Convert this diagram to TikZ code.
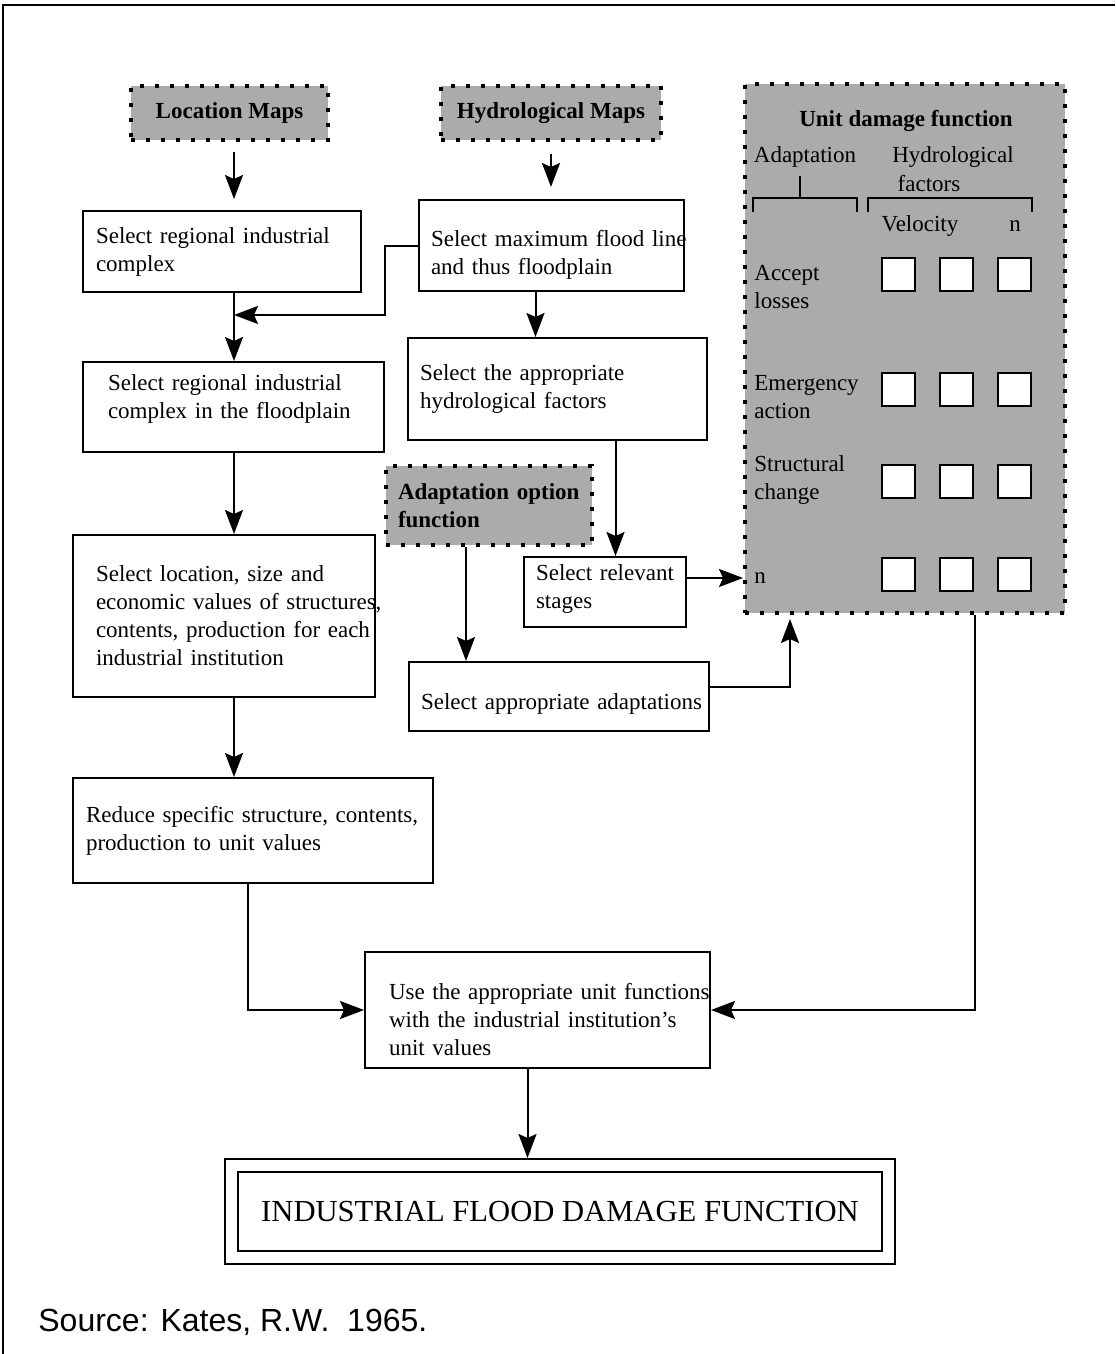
\documentclass[tikz,border=0pt]{standalone}
\usepackage{fontspec}
\setmainfont{Liberation Serif}
\newfontfamily\srcfont{Liberation Sans}
\usetikzlibrary{arrows.meta, positioning, fit}
\newcommand{\boxfont}{\fontsize{11.5pt}{14pt}\selectfont}
\hyphenpenalty=10000
\exhyphenpenalty=10000

\begin{document}
\begin{tikzpicture}[x=0.5pt, y=-0.5pt,
  stepbox/.style={draw, line width=1pt, fill=white, align=left,
    font=\boxfont, inner ysep=0pt},
  dotbox/.style={draw, line width=2pt, dash pattern=on 2pt off 5.5pt,
    fill=black!33, font=\boxfont\bfseries, inner ysep=0pt},
  cell/.style={draw, line width=1pt, fill=white,
    minimum size=16.5pt, inner sep=0pt},
  lbl/.style={font=\boxfont, inner sep=0pt, align=left},
  drop/.style={execute at begin node={\endgraf\vspace*{#1}}},
  lift/.style={execute at end node={\endgraf\vspace*{#1}}},
  arr/.style={-{Stealth[length=12pt, width=9pt, inset=2pt]}, line width=1pt},
  brk/.style={line width=1pt}
]

%% ── Frame ──
\useasboundingbox (0,0) rectangle (1115,1354);
\draw[line width=1.3pt] (3,1354) -- (3,5) -- (1115,5);

%% ── Map inputs ──
\node[dotbox, minimum width=98.5pt, minimum height=27pt] (locmap) at (229.5,113) {Location Maps};
\node[dotbox, minimum width=110pt, minimum height=27pt] (hydmap) at (551,113) {Hydrological Maps};
\node[dotbox, align=left, text width=91pt, inner xsep=6pt, minimum height=39.5pt] (adopt) at (489,505.5)
  {Adaptation~option\\function};

%% ── Industrial complex chain ──
\node[stepbox, text width=126pt, inner xsep=6.5pt, minimum height=40.5pt] (regcomp) at (222,251.5)
  {Select~regional~industrial\\complex};
\node[stepbox, lift=8.5pt, text width=125.5pt, inner xsep=12.5pt, minimum height=45pt] (regflood) at (233.5,407)
  {Select~regional~industrial\\complex~in~the~floodplain};
\node[stepbox, text width=128pt, inner xsep=11.5pt, minimum height=81pt] (values) at (224,616)
  {Select location, size and\\economic~values~of~structures,\\contents,~production~for~each\\industrial institution};
\node[stepbox, text width=167pt, inner xsep=6.5pt, minimum height=52.5pt] (reduce) at (253,830.5)
  {Reduce~specific~structure,~contents,\\production to unit values};

%% ── Hydrological chain ──
\node[stepbox, drop=3pt, text width=120.5pt, inner xsep=6pt, minimum height=45.5pt] (floodline) at (551.5,245.5)
  {Select~maximum~flood~line\\and thus floodplain};
\node[stepbox, text width=137.5pt, inner xsep=6pt, minimum height=51pt] (hydfac) at (557.5,389)
  {Select the appropriate\\hydrological factors};
\node[stepbox, lift=3pt, text width=69pt, inner xsep=6pt, minimum height=35pt] (stages) at (605,592)
  {Select~relevant\\stages};
\node[stepbox, drop=1pt, align=center, text width=138pt, inner xsep=6pt, minimum height=34.5pt] (adapt) at (559,696.5)
  {Select~appropriate~adaptations};
\node[stepbox, drop=3.5pt, text width=148.5pt, inner xsep=12pt, minimum height=58pt] (useunit) at (537.5,1010)
  {Use~the~appropriate~unit~functions\\with the industrial institution’s\\unit values};

%% ── Result ──
\node[draw, line width=1pt, minimum width=322pt, minimum height=39.5pt,
  font=\fontsize{15.3pt}{18pt}\selectfont] (result) at (560,1211.5) {INDUSTRIAL FLOOD DAMAGE FUNCTION};
\node[draw, line width=1pt, fit=(result), inner sep=6pt] (resultframe) {};

%% ── Unit damage function panel ──
\node[dotbox, minimum width=160pt, minimum height=264.5pt] (unitfn) at (905,348.5) {};
\node[font=\boxfont\bfseries] (unittitle) at (906,121) {Unit damage function};
\node[lbl] (adaptlbl) at (805,157) {Adaptation};
\node[lbl] (hydlbl) at (953,157) {Hydrological};
\node[lbl] (factlbl) at (929,184) {factors};
\node[lbl] (vellbl) at (920,226) {Velocity};
\node[lbl] (nlbl) at (1015,226) {n};

\draw[brk] (753,212) -- (753,198) -- (857,198) -- (857,212);
\draw[brk] (800,198) -- (800,176);
\draw[brk] (868,212) -- (868,198) -- (1032,198) -- (1032,212);

\foreach \r/\sy/\ly/\txt in {1/274/287/{Accept\\losses}, 2/389/397/{Emergency\\action},
    3/481/480/{Structural\\change}, 4/574/578/n} {
  \node[lbl, anchor=west] (row\r) at (754,\ly) {\txt};
  \foreach \c/\sx in {1/898, 2/956, 3/1014}
    \node[cell] (cell\r\c) at (\sx,\sy) {};
}

%% ── Connectors ──
\coordinate (merge) at (234,315);
\draw[arr, shorten <=5pt, shorten >=5.5pt] (locmap.south -| merge) -- (regcomp.north -| merge);
\draw[arr, shorten <=6pt, shorten >=6pt] (hydmap.south) -- (hydmap.south |- floodline.north);
\draw[arr] (floodline.west) -- ++(-33,0) |- (merge);
\draw[arr] (regcomp.south -| merge) -- (regflood.north -| merge);
\draw[arr] (regflood.south -| merge) -- (values.north -| merge);
\draw[arr] (values.south -| merge) -- (reduce.north -| merge);
\draw[arr] ([xshift=-8pt]floodline.south) -- ([xshift=-8pt]floodline.south |- hydfac.north);
\draw[arr] ([xshift=29pt]hydfac.south) -- ([xshift=29pt]hydfac.south |- stages.north);
\draw[arr] ([xshift=-11.5pt]adopt.south) -- ([xshift=-11.5pt]adopt.south |- adapt.north);
\draw[arr] ([yshift=7pt]stages.east) -- ([yshift=7pt]stages.east -| unitfn.west);
\draw[arr, shorten >=2pt] ([yshift=5pt]adapt.east) -| ([xshift=-57.5pt]unitfn.south);
\draw[arr] ([xshift=-2.5pt]reduce.south) |- (useunit.west);
\draw[arr] ([xshift=35pt]unitfn.south) |- (useunit.east);
\draw[arr] ([xshift=-5pt]useunit.south) -- ([xshift=-5pt]useunit.south |- resultframe.north);

%% ── Source ──
\node[anchor=west, font=\srcfont\fontsize{16pt}{19pt}\selectfont, inner sep=0pt] (source) at (38,1322)
  {Source: Kates, R.W.\ \ 1965.};

\end{tikzpicture}
\end{document}
